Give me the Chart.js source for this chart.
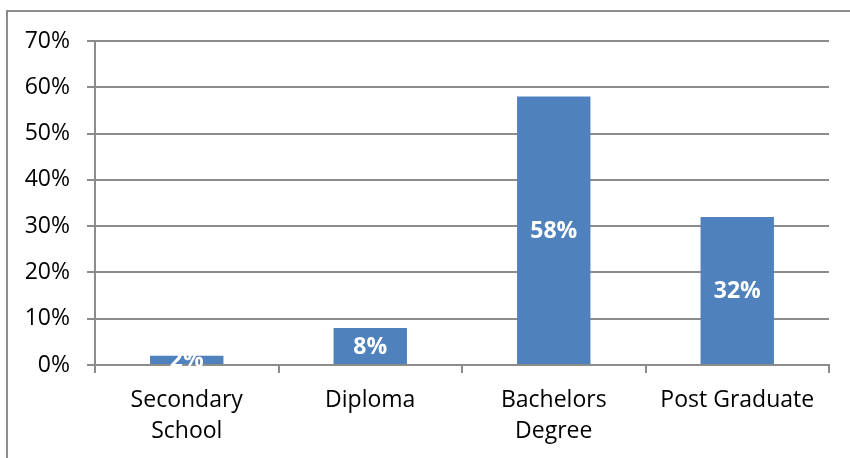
<!DOCTYPE html>
<html>
<head>
<meta charset="utf-8">
<script src="https://cdn.jsdelivr.net/npm/chart.js@4/dist/chart.umd.min.js"></script>
<style>
  html, body { margin: 0; padding: 0; background: #fff; overflow: hidden; }
  #wrap { position: relative; width: 850px; height: 458px; }
  #frame { position: absolute; left: 6px; top: 10px; width: 900px; height: 500px; border: 2px solid #8c8c8c; box-sizing: border-box; }
  #chart { position: absolute; left: 0; top: 0; }
</style>
</head>
<body>
<div id="wrap">
  <div id="frame"></div>
  <canvas id="chart" width="850" height="458"></canvas>
</div>
<script>
// datos
var categorias = [["Secondary", "School"], "Diploma", ["Bachelors", "Degree"], "Post Graduate"];
var valores = [2, 8, 58, 32];
var ticksY = [0, 10, 20, 30, 40, 50, 60, 70];

// etiquetas blancas dentro de las barras
var etiquetasBarras = {
    id: "etiquetasBarras",
    afterDatasetsDraw: function (chart) {
        var ctx = chart.ctx;
        var meta = chart.getDatasetMeta(0);
        ctx.save();
        ctx.fillStyle = "#ffffff";
        ctx.font = "bold 23px 'Open Sans'";
        ctx.textAlign = "center";
        ctx.textBaseline = "middle";
        meta.data.forEach(function (bar, i) {
            var medio = (bar.y + bar.base) / 2;
            ctx.fillText(valores[i] + "%", bar.x, medio + 1);
        });
        ctx.restore();
    }
};

var contexto = document.getElementById("chart").getContext("2d");
var grafico = new Chart(contexto, {
    type: "bar",
    data: {
        labels: categorias,
        datasets: [
            {
                data: valores,
                backgroundColor: "#4f81bd",
                borderWidth: 0,
                barPercentage: 0.4,
                categoryPercentage: 1.0,
            },
        ],
    },
    options: {
        responsive: false,
        animation: false,
        events: [],
        layout: {
            padding: { top: 41, right: 21, left: 0, bottom: 0 },
        },
        plugins: {
            legend: { display: false },
            tooltip: { enabled: false },
        },
        scales: {
            x: {
                grid: {
                    offset: true,
                    drawOnChartArea: false,
                    drawTicks: true,
                    tickLength: 8,
                    color: "#8c8c8c",
                    lineWidth: 2,
                },
                border: { color: "#8c8c8c", width: 2 },
                ticks: {
                    color: "#000000",
                    font: { family: "'Open Sans'", size: 23, lineHeight: 1.35 },
                    padding: 12,
                    maxRotation: 0,
                    autoSkip: false,
                },
                afterFit: function (scale) {
                    scale.height = 93;
                },
            },
            y: {
                min: 0,
                max: 70,
                afterBuildTicks: function (scale) {
                    scale.ticks = ticksY.map(function (v) { return { value: v }; });
                },
                grid: {
                    color: "#8c8c8c",
                    lineWidth: 2,
                    tickLength: 8,
                },
                border: { color: "#8c8c8c", width: 2 },
                ticks: {
                    color: "#000000",
                    font: { family: "'Open Sans'", size: 23 },
                    padding: 17,
                    callback: function (v) { return v + "%"; },
                },
                afterFit: function (scale) {
                    scale.width = 95;
                },
            },
        },
    },
    plugins: [etiquetasBarras],
});
</script>
</body>
</html>
